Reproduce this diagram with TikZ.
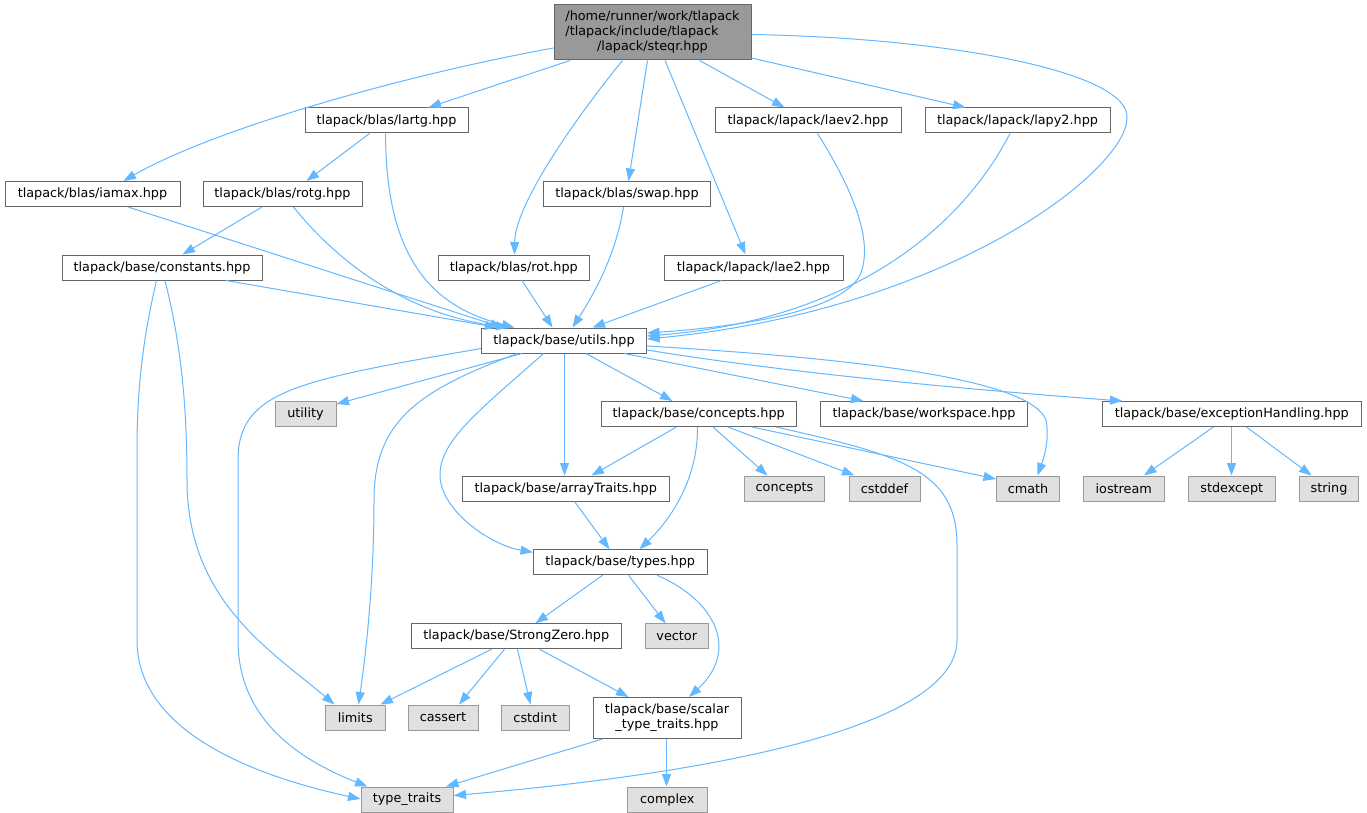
\documentclass[tikz,border=0pt]{standalone}
\usepackage{fontspec}
\setmainfont{DejaVu Sans}
\usetikzlibrary{arrows.meta}
\definecolor{edgec}{HTML}{63B8FF}
\definecolor{bord}{HTML}{666666}
\definecolor{sysbord}{HTML}{999999}
\definecolor{sysfill}{HTML}{E0E0E0}
\definecolor{rootfill}{HTML}{999999}
\begin{document}
\begin{tikzpicture}[x=1pt,y=-1pt,
  hdr/.style={draw=bord, fill=white, line width=1pt, inner sep=0pt, minimum height=25pt, font=\fontsize{12.8}{15}\selectfont, text=black},
  sys/.style={hdr, draw=sysbord, fill=sysfill},
  inc/.style={draw=edgec, line width=1pt, -{Triangle[length=12.5pt,width=9pt]}, edgec}]
\useasboundingbox (0,0) rectangle (1367,813);
\fill[white] (0,0) rectangle (1367,813);

% nodes
\node[hdr, fill=rootfill, minimum width=197pt, minimum height=55pt] (root) at (652.5,32.5)
  {\begin{tabular}{@{}l@{}}/home/runner/work/tlapack\\/tlapack/include/tlapack\\\multicolumn{1}{@{}c@{}}{/lapack/steqr.hpp}\end{tabular}};
\node[hdr, minimum width=163pt] (lartg) at (386.5,120.5) {tlapack/blas/lartg.hpp};
\node[hdr, minimum width=186pt] (laev2) at (808,120.5) {tlapack/lapack/laev2.hpp};
\node[hdr, minimum width=185pt] (lapy2) at (1017.5,120.5) {tlapack/lapack/lapy2.hpp};
\node[hdr, minimum width=175pt] (iamax) at (92.5,194) {tlapack/blas/iamax.hpp};
\node[hdr, minimum width=159pt] (rotg) at (282.5,194) {tlapack/blas/rotg.hpp};
\node[hdr, minimum width=167pt] (swap) at (627,194) {tlapack/blas/swap.hpp};
\node[hdr, minimum width=200pt] (constants) at (162,267.5) {tlapack/base/constants.hpp};
\node[hdr, minimum width=150.5pt] (rot) at (513.75,267.5) {tlapack/blas/rot.hpp};
\node[hdr, minimum width=179pt] (lae2) at (753.5,267.5) {tlapack/lapack/lae2.hpp};
\node[hdr, minimum width=165pt] (utils) at (564,340.5) {tlapack/base/utils.hpp};
\node[sys, minimum width=61pt] (utility) at (305.5,414) {utility};
\node[hdr, minimum width=194.5pt] (conceptsh) at (698.75,414) {tlapack/base/concepts.hpp};
\node[hdr, minimum width=207pt] (workspace) at (924,414) {tlapack/base/workspace.hpp};
\node[hdr, minimum width=258.5pt] (exc) at (1231.75,414) {tlapack/base/exceptionHandling.hpp};
\node[hdr, minimum width=206.5pt] (arrayTraits) at (565.75,488.5) {tlapack/base/arrayTraits.hpp};
\node[sys, minimum width=80pt] (concepts) at (784.5,488.5) {concepts};
\node[sys, minimum width=71pt] (cstddef) at (884.5,488.5) {cstddef};
\node[sys, minimum width=63pt] (cmath) at (1028,488.5) {cmath};
\node[sys, minimum width=80.5pt] (iostream) at (1123.75,488.5) {iostream};
\node[sys, minimum width=87.5pt] (stdexcept) at (1231.75,488.5) {stdexcept};
\node[sys, minimum width=59pt] (string) at (1329,488.5) {string};
\node[hdr, minimum width=173.5pt] (types) at (620.25,562.25) {tlapack/base/types.hpp};
\node[hdr, minimum width=209.5pt] (SZ) at (516.25,636.25) {tlapack/base/StrongZero.hpp};
\node[sys, minimum width=63.5pt] (vector) at (676.75,636.25) {vector};
\node[sys, minimum width=59.5pt] (limits) at (355.25,717.5) {limits};
\node[sys, minimum width=70pt] (cassert) at (443,717.5) {cassert};
\node[sys, minimum width=67.5pt] (cstdint) at (535.25,717.5) {cstdint};
\node[hdr, minimum width=148pt, minimum height=41pt, align=center] (scalar) at (667,718) {tlapack/base/scalar\\\_type\_traits.hpp};
\node[sys, minimum width=92pt] (typetraits) at (407,799.5) {type\_traits};
\node[sys, minimum width=79.5pt] (complex) at (667.25,799.5) {complex};

% edges from root
\draw[inc] ([yshift=-15.5pt]root.west) .. controls (404,75) and (214,129) .. ([xshift=119pt]iamax.north west);
\draw[inc] ([xshift=16.5pt]root.south west) -- ([xshift=124pt]lartg.north west);
\draw[inc] ([xshift=69pt]root.south west) .. controls (590,100) and (515,200) .. ([xshift=76.5pt]rot.north west);
\draw[inc] ([xshift=94pt]root.south west) -- ([xshift=85.5pt]swap.north west);
\draw[inc] ([xshift=111.5pt]root.south west) -- ([xshift=82pt]lae2.north west);
\draw[inc] ([xshift=146pt]root.south west) -- ([xshift=70pt]laev2.north west);
\draw[inc] ([yshift=2.5pt]root.south east) -- ([xshift=41pt]lapy2.north west);
\draw[inc] ([yshift=-30pt]root.north east) .. controls (950,38) and (1130,72) .. (1127,118)
   .. controls (1127,170) and (950,310) .. ([yshift=1.5pt]utils.east);

% into utils
\draw[inc] ([xshift=65pt]lartg.south west) -- ([xshift=104pt]rotg.north west);
\draw[inc] ([xshift=81pt]lartg.south west) .. controls (386,250) and (425,305) .. ([xshift=33.5pt]utils.north west);
\draw[inc] ([xshift=123.5pt]iamax.south west) -- ([xshift=21.5pt]utils.north west);
\draw[inc] ([xshift=59.5pt]rotg.south west) -- ([xshift=121pt]constants.north west);
\draw[inc] ([xshift=91pt]rotg.south west) .. controls (340,265) and (410,315) .. ([xshift=27.5pt]utils.north west);
\draw[inc] ([xshift=164.5pt]constants.south west) -- ([xshift=16.5pt]utils.north west);
\draw[inc] ([xshift=84pt]rot.south west) -- ([xshift=71.5pt]utils.north west);
\draw[inc] ([xshift=80.5pt]swap.south west) .. controls (615,260) and (590,300) .. ([xshift=91.5pt]utils.north west);
\draw[inc] ([xshift=58pt]lae2.south west) -- ([xshift=111.5pt]utils.north west);
\draw[inc] ([xshift=103pt]laev2.south west) .. controls (850,185) and (875,240) .. (860,275)
   .. controls (840,315) and (720,328) .. ([yshift=7.5pt]utils.east);
\draw[inc] ([xshift=85.5pt]lapy2.south west) .. controls (960,230) and (850,320) .. ([yshift=4.5pt]utils.east);

% from utils
\draw[inc] ([xshift=41pt]utils.south west) -- ([yshift=-3pt]utility.north east);
\draw[inc] ([yshift=-8pt]utils.west) .. controls (300,380) and (238,390) .. (238,460) -- (238,640)
   .. controls (238,720) and (300,760) .. ([xshift=7pt]typetraits.north west);
\draw[inc] ([xshift=36.5pt]utils.south west) .. controls (420,390) and (374,420) .. (374,500)
   .. controls (374,600) and (362,680) .. ([xshift=33.5pt]limits.north west);
\draw[inc] ([xshift=62.5pt]utils.south west) .. controls (480,410) and (440,440) .. (440,475)
   .. controls (440,510) and (490,545) .. ([yshift=-3pt]types.north west);
\draw[inc] ([xshift=83.5pt]utils.south west) -- ([xshift=102.5pt]arrayTraits.north west);
\draw[inc] ([xshift=105pt]utils.south west) -- ([xshift=71.5pt]conceptsh.north west);
\draw[inc] ([xshift=143.5pt]utils.south west) -- ([xshift=43.5pt]workspace.north west);
\draw[inc] ([yshift=-5.5pt]utils.east) .. controls (850,358) and (1030,378) .. (1046,420)
   .. controls (1050,440) and (1043,460) .. ([xshift=41.5pt]cmath.north west);
\draw[inc] ([yshift=-9.5pt]utils.east) .. controls (800,375) and (1000,392) .. ([xshift=20.5pt]exc.north west);

% from concepts.hpp
\draw[inc] ([xshift=75.5pt]conceptsh.south west) -- ([xshift=129.5pt]arrayTraits.north west);
\draw[inc] ([xshift=96.5pt]conceptsh.south west) .. controls (698,480) and (670,520) .. ([xshift=106.5pt]types.north west);
\draw[inc] ([xshift=112pt]conceptsh.south west) -- ([xshift=23.5pt]concepts.north west);
\draw[inc] ([xshift=127pt]conceptsh.south west) -- ([xshift=6pt]cstddef.north west);
\draw[inc] ([xshift=151pt]conceptsh.south west) -- ([yshift=-3.5pt]cmath.north west);
\draw[inc] ([xshift=175pt]conceptsh.south west) .. controls (900,455) and (957,470) .. (957,545) -- (957,640)
   .. controls (957,720) and (750,770) .. ([yshift=4pt]typetraits.east);

% from exceptionHandling
\draw[inc] ([xshift=111.5pt]exc.south west) -- ([xshift=61pt]iostream.north west);
\draw[inc] ([xshift=129.5pt]exc.south west) -- ([xshift=44pt]stdexcept.north west);
\draw[inc] ([xshift=144.5pt]exc.south west) -- ([xshift=12.5pt]string.north west);

% arrayTraits, types
\draw[inc] ([xshift=112.5pt]arrayTraits.south west) -- ([xshift=76.5pt]types.north west);
\draw[inc] ([xshift=69.5pt]types.south west) -- ([xshift=124.5pt]SZ.north west);
\draw[inc] ([xshift=95.5pt]types.south west) -- ([xshift=21pt]vector.north west);
\draw[inc] ([xshift=124pt]types.south west) .. controls (715,600) and (740,650) .. ([xshift=96.5pt]scalar.north west);

% StrongZero
\draw[inc] ([xshift=80.5pt]SZ.south west) -- ([xshift=55.5pt]limits.north west);
\draw[inc] ([xshift=93.5pt]SZ.south west) -- ([xshift=51.5pt]cassert.north west);
\draw[inc] ([xshift=106.5pt]SZ.south west) -- ([xshift=29.5pt]cstdint.north west);
\draw[inc] ([xshift=128.5pt]SZ.south west) -- ([xshift=36pt]scalar.north west);

% constants
\draw[inc] ([xshift=103.5pt]constants.south west) .. controls (180,340) and (187,400) .. (187,480)
   .. controls (187,600) and (270,650) .. ([xshift=9.5pt]limits.north west);
\draw[inc] ([xshift=95pt]constants.south west) .. controls (145,330) and (137,380) .. (137,450) -- (137,640)
   .. controls (137,730) and (250,775) .. ([yshift=0.5pt]typetraits.west);

% scalar
\draw[inc] ([xshift=10pt]scalar.south west) -- ([xshift=85.5pt]typetraits.north west);
\draw[inc] ([xshift=74pt]scalar.south west) -- ([xshift=39.5pt]complex.north west);
\end{tikzpicture}
\end{document}
